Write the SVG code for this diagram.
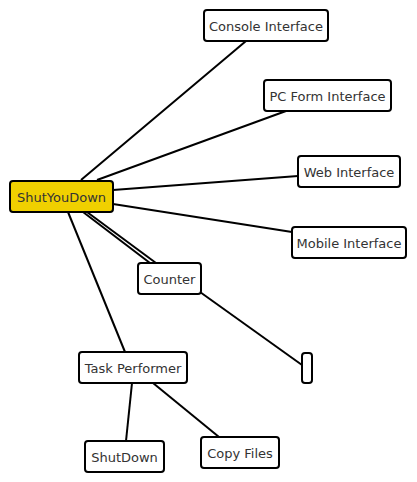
<svg xmlns="http://www.w3.org/2000/svg" width="417" height="482" viewBox="0 0 417 482">
<style>
.n rect{fill:#fff;stroke:#000;stroke-width:2}
.n text{font-family:"DejaVu Sans",sans-serif;font-size:13px;fill:#333;text-anchor:middle;dominant-baseline:central}
#c line{stroke:#000;stroke-width:2}
</style>
<rect width="417" height="482" fill="#fff"/>
<g id="c">
<line x1="81" y1="180" x2="246" y2="41"/>
<line x1="97" y1="180" x2="286" y2="111"/>
<line x1="113" y1="190" x2="298" y2="176"/>
<line x1="113" y1="204" x2="292" y2="232"/>
<line x1="83" y1="212" x2="150" y2="263"/>
<line x1="87" y1="212" x2="156" y2="263"/>
<line x1="68" y1="212" x2="125" y2="352"/>
<line x1="200" y1="292" x2="302" y2="365"/>
<line x1="132" y1="383" x2="126" y2="441"/>
<line x1="153" y1="383" x2="219" y2="437"/>
</g>
<g id="shutyoudown" class="n"><rect x="10" y="181" width="103" height="31" rx="3" style="fill:#f0d000"/><text x="61.5" y="197">ShutYouDown</text></g>
<g id="console" class="n"><rect x="204" y="10" width="124" height="31" rx="3"/><text x="266" y="26">Console Interface</text></g>
<g id="pcform" class="n"><rect x="264" y="80" width="127" height="31" rx="3"/><text x="327.5" y="96">PC Form Interface</text></g>
<g id="web" class="n"><rect x="298" y="156" width="102" height="31" rx="3"/><text x="349" y="172">Web Interface</text></g>
<g id="mobile" class="n"><rect x="292" y="227" width="114" height="31" rx="3"/><text x="349" y="243">Mobile Interface</text></g>
<g id="counter" class="n"><rect x="138" y="263" width="63" height="31" rx="3"/><text x="169.5" y="279">Counter</text></g>
<g id="empty" class="n"><rect x="302" y="353" width="10" height="30" rx="3"/></g>
<g id="task" class="n"><rect x="79" y="352" width="108" height="31" rx="3"/><text x="133" y="368">Task Performer</text></g>
<g id="shutdown" class="n"><rect x="85" y="441" width="79" height="31" rx="3"/><text x="124.5" y="457">ShutDown</text></g>
<g id="copy" class="n"><rect x="201" y="437" width="78" height="31" rx="3"/><text x="240" y="453">Copy Files</text></g>
</svg>
